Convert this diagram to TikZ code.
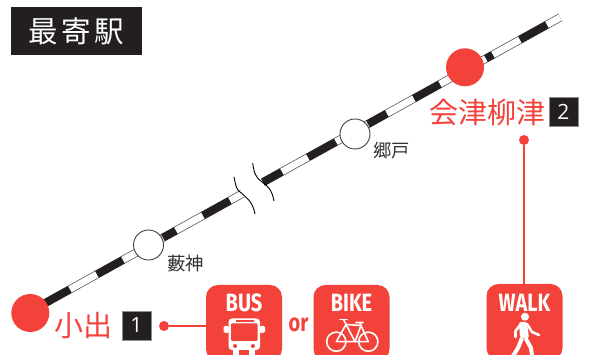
\documentclass[tikz,border=0pt]{standalone}
\usepackage{fontspec}
\setmainfont{Open Sans}
\newfontfamily\cjk{Noto Sans CJK JP}
\newfontfamily\cond{Fira Sans}[UprightFont=*,BoldFont=* Bold]
\usetikzlibrary{calc}
\definecolor{rd}{HTML}{F2423A}
\definecolor{blk}{HTML}{231F20}
\newcommand{\trk}[1]{{311.5-.5547*(#1-30)}}
\newcommand{\blackseg}[2]{\draw[trackblack] (#1,\trk{#1}) -- (#2,\trk{#2});}
\newcommand{\whiteseg}[2]{\draw[trackedge] (#1,\trk{#1}) -- (#2,\trk{#2});\draw[trackwhite] (#1,\trk{#1}) -- (#2,\trk{#2});}
\newcommand{\lab}[1]{\bfseries\cond\fontsize{25}{25}\selectfont\scalebox{.8}[1]{#1}}
\tikzset{
  trackblack/.style={line width=8.2pt,draw=blk},
  trackedge/.style={line width=8.2pt,draw=black!70},
  trackwhite/.style={line width=6.8pt,draw=white},
  stop/.style={circle,draw=black!75,line width=.9pt,fill=white,minimum size=30pt,inner sep=0},
  terminus/.style={circle,fill=rd,minimum size=38pt,inner sep=0},
  redlabel/.style={text=rd,font=\cjk\fontsize{29}{29}\selectfont,inner sep=0},
  greylabel/.style={text=black!80,font=\cjk\fontsize{18.3}{19}\selectfont,inner sep=0},
  numbox/.style={fill=blk,draw=black!45,line width=.6pt,text=white,minimum width=29pt,minimum height=29pt,inner sep=0,font=\fontsize{21}{21}\selectfont},
  modebox/.style={fill=rd,rounded corners=12pt,minimum width=76pt,minimum height=76pt,inner sep=0},
  modetext/.style={text=white,inner sep=0},
  dot/.style={circle,fill=rd,minimum size=10pt,inner sep=0},
  lead/.style={draw=rd,line width=1.4pt},
  breakline/.style={draw=black,line width=.9pt},
  icon/.style={draw=white,line width=1.6pt,line cap=round,line join=round},
}
\begin{document}
\begin{tikzpicture}[x=1pt,y=-1pt]
\useasboundingbox (0,0) rectangle (590,355);
\clip (0,0) rectangle (590,355);
% track
\blackseg{30}{70}\whiteseg{70}{97}\blackseg{97}{123}\whiteseg{123}{163}
\blackseg{163}{176}\whiteseg{176}{203}\blackseg{203}{230}\whiteseg{230}{248}
\blackseg{263}{282}\whiteseg{282}{308}\blackseg{308}{336}\whiteseg{336}{368}
\blackseg{368}{387}\whiteseg{387}{414}\blackseg{414}{440}\whiteseg{440}{486}
\blackseg{486}{493}\whiteseg{493}{520}\blackseg{520}{547}\whiteseg{547}{560}
% break
\fill[white] (246,200) -- (263,188) -- (254,176) -- (238,186) -- cycle;
\draw[breakline] (234,177) .. controls (236,186) and (236,189) .. (240,192) .. controls (246,197) and (253,202) .. (255,214);
\draw[breakline] (252.7,163) .. controls (254,173) and (256,178) .. (261.7,181.7) .. controls (268,186) and (272,190) .. (274,201);
% stations
\node[terminus] (koide) at (30.3,313) {};
\node[terminus] (aizu) at (465,67.3) {};
\node[stop] (yabu) at (148.5,245) {};
\node[stop] (gou) at (355,134) {};
% title
\node[fill=blk,minimum width=131pt,minimum height=48pt,inner sep=0] (title) at (76.5,31) {};
\node[text=white,font=\cjk\fontsize{29.5}{30}\selectfont,inner sep=0] (titletext) at (title.center) {最\hspace{3.5pt}寄\hspace{3.5pt}駅};
% labels
\node[greylabel,anchor=west] (yabul) at (167,264) {藪神};
\node[greylabel,anchor=west] (goul) at (373,151) {郷戸};
\node[redlabel,anchor=west] (koidel) at (54.5,326) {小出};
\node[redlabel,anchor=west] (aizul) at (429,112.5) {会津柳津};
\node[numbox] (n1) at (136.5,325.5) {1};
\node[numbox] (n2) at (563.5,112) {2};
% mode boxes
\node[modebox] (bus) at (244,323) {};
\node[modebox] (bike) at (351.5,323) {};
\node[modebox] (walk) at (524.5,322) {};
\node[modetext] (bust) at (244,302.5) {\lab{BUS}};
\node[modetext] (biket) at (351.5,302.5) {\lab{BIKE}};
\node[modetext] (walkt) at (524.5,302.5) {\lab{WALK}};
\node[text=rd,inner sep=0] (ort) at (298.5,324.5) {\lab{or}};
% connectors
\node[dot] (d1) at (164,326) {};
\node[dot] (d2) at (524,140) {};
\draw[lead] (d1) -- (d1 -| bus.west);
\draw[lead] (d2) -- (d2 |- walk.north);
% bus icon
\fill[white,rounded corners=3.5pt] (228.5,318.5) rectangle (260,350);
\fill[white] (233,349) rectangle (239,356);
\fill[white] (249,349) rectangle (255,356);
\fill[white,rounded corners=1.5pt] (223.5,326) rectangle (229,333);
\fill[white,rounded corners=1.5pt] (259.5,326) rectangle (265,333);
\fill[rd,rounded corners=1pt] (231,323.5) rectangle (257.5,341);
\fill[rd] (235.5,320.2) rectangle (254,321.8);
\fill[rd] (235,346) circle (2);
\fill[rd] (253,346) circle (2);
% bike icon
\draw[icon] (336.3,341.7) circle (9.6);
\draw[icon] (368.3,341.7) circle (9.6);
\draw[icon] (336.3,341.7) -- (346,324.5) -- (361,325.5) -- (355,341.7) -- cycle;
\draw[icon] (361,325.5) -- (368.3,341.7) -- (355,341.7) -- (343.5,319.5);
\draw[icon] (361,325.5) -- (359.5,322.5) (356,322.5) -- (363,322.5);
\draw[icon] (340,319.5) -- (347,319.5);
% walker
\fill[white] (525,316.7) circle (4);
\fill[white,rounded corners=2pt] (519,322) -- (527,322) -- (529,338) -- (520,338) -- cycle;
\draw[icon,line width=2.6pt] (521,324) -- (515.5,331) -- (515.5,337);
\draw[icon,line width=2.6pt] (527,324) -- (532,332) -- (539,335);
\draw[icon,line width=4pt,line cap=butt] (522,338) -- (518,348) -- (513,356);
\draw[icon,line width=4pt,line cap=butt] (525.5,338) -- (531,348) -- (532,356);
\end{tikzpicture}
\end{document}
